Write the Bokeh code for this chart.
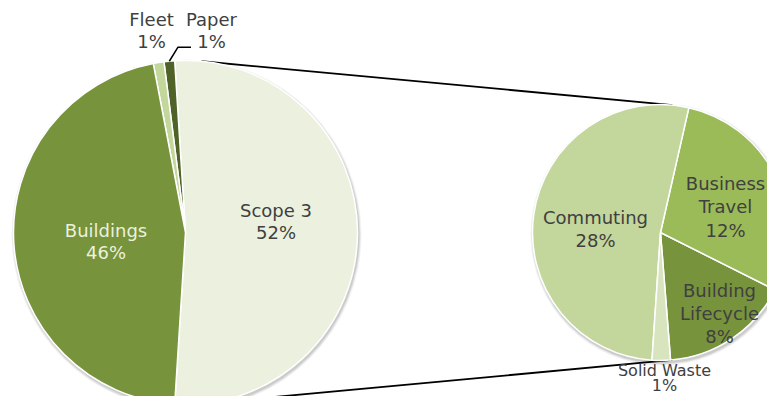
import numpy as np
from bokeh.plotting import figure
from bokeh.models import ColumnDataSource, Range1d
from bokeh.embed import file_html
from bokeh.resources import INLINE
from bokeh.core.properties import value

# ---------------- data ----------------
main_categories = ["Scope 3", "Paper", "Fleet", "Buildings"]
main_values = [52.0, 1.0, 1.0, 46.0]
main_labels = ["52%", "1%", "1%", "46%"]

# breakdown of Scope 3 (slice sizes as drawn; printed labels below)
sub_categories = ["Building Lifecycle", "Business Travel", "Commuting", "Solid Waste"]
sub_values = [8.5, 15.0, 27.3, 1.2]
sub_labels = ["8%", "12%", "28%", "1%"]

# ---------------- styles / layout ----------------
main_colors = ["#EBF1DE", "#4F6228", "#C3D69B", "#77933C"]
sub_colors = ["#77933C", "#9BBB59", "#C3D69B", "#D7E4BD"]
TEXT = "#404040"
FONT = value("DejaVu Sans")

W, H = 767, 396
BASE_FIX = 7.0      # renderer places alphabetic text a bit low; compensate
def py(y):          # picture pixel y (from top) -> data y (upward)
    return H - y

C1 = (185.0, py(232.0)); R1 = 172.0
C2 = (660.0, py(232.0)); R2 = 128.0
SUB_START = np.deg2rad(-85.5)

# label anchors: (center x, baseline of first line, lines, colour, font px, line step)
label_layout = {
    "Scope 3": (275.5, 217.3, ["Scope 3"], TEXT, 18, 22.0),
    "Buildings": (105.5, 237.3, ["Buildings"], "#EBF1DE", 18, 22.0),
    "Fleet": (151.0, 26.0, ["Fleet"], TEXT, 18, 22.3),
    "Paper": (211.0, 26.0, ["Paper"], TEXT, 18, 22.3),
    "Commuting": (595.0, 224.3, ["Commuting"], TEXT, 18, 22.5),
    "Business Travel": (725.0, 190.0, ["Business", "Travel"], TEXT, 18, 23.3),
    "Building Lifecycle": (719.0, 297.3, ["Building", "Lifecycle"], TEXT, 18, 23.0),
    "Solid Waste": (664.0, 377.0, ["Solid Waste"], TEXT, 16, 14.5),
}


def wedge_source(values, colors, start):
    v = np.asarray(values, dtype=float)
    frac = v / v.sum()
    ends = start + 2 * np.pi * np.cumsum(frac)
    starts = ends - 2 * np.pi * frac
    return ColumnDataSource(dict(start=starts, end=ends, color=colors)), starts, ends


p = figure(width=W, height=H, x_range=Range1d(0, W), y_range=Range1d(0, H),
           output_backend="svg", toolbar_location=None, min_border=0,
           x_axis_type=None, y_axis_type=None)
p.grid.visible = False
p.outline_line_color = None
p.background_fill_color = "white"

# connector lines: external tangents between the two pies
d = C2[0] - C1[0]
a = np.pi / 2 - np.arcsin((R1 - R2) / d)
for ang in (a, -a):
    p.line([C1[0] + R1 * np.cos(ang), C2[0] + R2 * np.cos(ang)],
           [C1[1] + R1 * np.sin(ang), C2[1] + R2 * np.sin(ang)],
           line_color="black", line_width=1.8)

# soft shadows
for (cx, cy), r in ((C1, R1), (C2, R2)):
    for k, al in ((3.0, 0.05), (2.0, 0.07), (1.0, 0.09)):
        p.circle(x=[cx + 1.0], y=[cy - 2.0], radius=r + k, fill_color="black",
                 fill_alpha=al, line_color=None)

main_start = -np.pi * main_values[0] / sum(main_values)
src1, s1, e1 = wedge_source(main_values, main_colors, main_start)
p.wedge(x=C1[0], y=C1[1], radius=R1, start_angle="start", end_angle="end",
        fill_color="color", line_color="white", line_width=1.5, source=src1)

src2, s2, e2 = wedge_source(sub_values, sub_colors, SUB_START)
p.wedge(x=C2[0], y=C2[1], radius=R2, start_angle="start", end_angle="end",
        fill_color="color", line_color="white", line_width=1.5, source=src2)

# leader line for the Paper label
pi_ = main_categories.index("Paper")
mid = (s1[pi_] + e1[pi_]) / 2
p.line([C1[0] + R1 * np.cos(mid), 177.5, 190.5],
       [C1[1] + R1 * np.sin(mid), py(46.7), py(46.7)],
       line_color="black", line_width=1.5)

# labels
rows = dict(x=[], y=[], text=[], color=[], size=[])
def add(x, yb, t, col, fs):
    rows["x"].append(x); rows["y"].append(py(yb - BASE_FIX)); rows["text"].append(t)
    rows["color"].append(col); rows["size"].append(f"{fs}px")

for cats, pcts in ((main_categories, main_labels), (sub_categories, sub_labels)):
    for cat, pct in zip(cats, pcts):
        x, y0, lines, col, fs, step = label_layout[cat]
        for i, ln in enumerate(lines):
            add(x, y0 + i * step, ln, col, fs)
        add(x, y0 + len(lines) * step, pct, col, fs)

p.text(x="x", y="y", text="text", text_color="color", text_font_size="size",
       source=ColumnDataSource(rows), text_font=FONT, text_align="center",
       text_baseline="alphabetic")

open("out.html", "w").write(file_html(p, INLINE))
